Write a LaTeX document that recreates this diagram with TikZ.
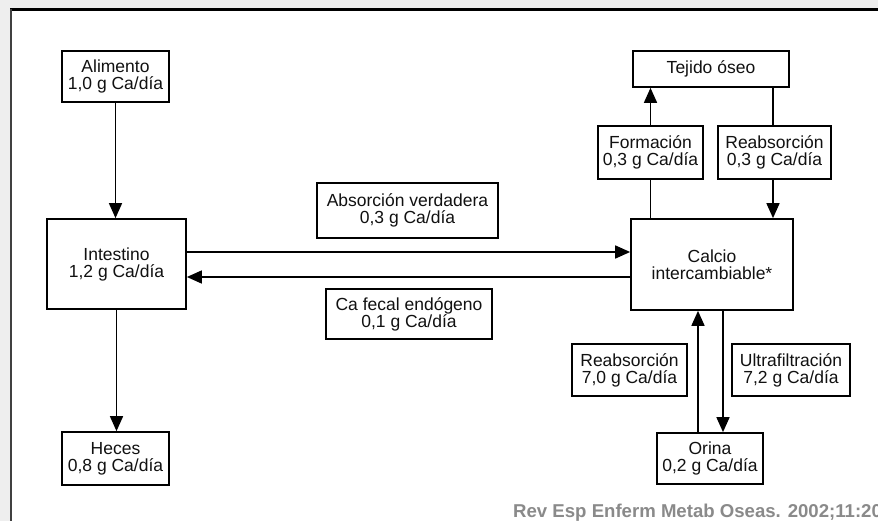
\documentclass[tikz,border=0pt]{standalone}
\usepackage{fontspec}
\setmainfont{Liberation Sans}
\usetikzlibrary{arrows.meta}
\definecolor{txt}{HTML}{111111}
\definecolor{citegray}{HTML}{8A8A8A}
\definecolor{bggray}{HTML}{EEEEEE}
\begin{document}
\begin{tikzpicture}[x=1pt,y=-1pt,
  box/.style={draw=black,line width=1.7pt,fill=white,inner sep=0pt,align=center,
    font=\fontsize{17.5}{17}\selectfont,text=txt},
  arr/.style={line width=1.6pt,-{Triangle[length=15pt,width=13pt]}},
  ln/.style={line width=1.6pt}]
\useasboundingbox (0,0) rectangle (878,521);
\fill[bggray] (0,0) rectangle (878,521);
\fill[white] (11,10) rectangle (878,521);
\draw[line width=3pt] (10,9.5) -- (878,9.5);
\draw[line width=2pt,black!75] (11,9) -- (11,521);

% nodes
\node[box,minimum width=107pt,minimum height=51pt] (alim) at (115.5,76.5) {Alimento\\1,0 g Ca/día};
\node[box,minimum width=139pt,minimum height=90pt] (intes) at (116.5,264) {Intestino\\1,2 g Ca/día};
\node[box,minimum width=107pt,minimum height=53pt] (heces) at (115.5,458.5) {Heces\\0,8 g Ca/día};
\node[box,minimum width=181pt,minimum height=55pt] (absv) at (407.5,210.5) {Absorción verdadera\\0,3 g Ca/día};
\node[box,minimum width=166pt,minimum height=50pt] (cafe) at (409,314) {Ca fecal endógeno\\0,1 g Ca/día};
\node[box,minimum width=162pt,minimum height=91pt] (calcio) at (712,264.5) {Calcio\\intercambiable*};
\node[box,minimum width=156pt,minimum height=36pt] (tejido) at (711,69) {Tejido óseo};
\node[box,minimum width=105pt,minimum height=53pt] (form) at (650.5,152.5) {Formación\\0,3 g Ca/día};
\node[box,minimum width=113pt,minimum height=53pt] (reab1) at (774.5,152.5) {Reabsorción\\0,3 g Ca/día};
\node[box,minimum width=115pt,minimum height=52pt] (reab2) at (629.5,370) {Reabsorción\\7,0 g Ca/día};
\node[box,minimum width=118pt,minimum height=52pt] (ultra) at (791,370) {Ultrafiltración\\7,2 g Ca/día};
\node[box,minimum width=106pt,minimum height=51pt] (orina) at (710,458.5) {Orina\\0,2 g Ca/día};

% connectors
\draw[arr] (alim.south) -- (alim.south |- intes.north);
\draw[arr] (intes.south) -- (intes.south |- heces.north);
\draw[arr] ([yshift=12pt]intes.east) -- ([yshift=12pt]intes.east -| calcio.west);
\draw[arr] ([yshift=-13pt]intes.east -| calcio.west) -- ([yshift=-13pt]intes.east);
\draw[ln] (form.south |- calcio.north) -- (form.south);
\draw[arr] (form.north) -- (form.north |- tejido.south);
\draw[ln] ([xshift=-1.5pt]reab1.north |- tejido.south) -- ([xshift=-1.5pt]reab1.north);
\draw[arr] ([xshift=-1.5pt]reab1.south) -- ([xshift=-1.5pt]reab1.south |- calcio.north);
\draw[arr] ([xshift=-12pt]orina.north) -- ([xshift=-12pt]orina.north |- calcio.south);
\draw[arr] ([xshift=13pt]orina.north |- calcio.south) -- ([xshift=13pt]orina.north);

% citation
\begin{scope}
\clip (0,0) rectangle (878,521);
\node[anchor=base west,inner sep=0pt,text=citegray,font=\fontsize{18.6}{19}\selectfont\bfseries] (cite) at (513,517) {Rev Esp Enferm Metab Oseas. 2002;11:20};
\end{scope}
\end{tikzpicture}
\end{document}
